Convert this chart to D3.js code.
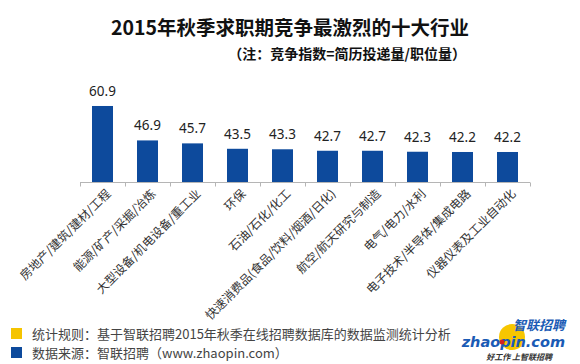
<!DOCTYPE html>
<html>
<head>
<meta charset="utf-8">
<script src="https://cdn.jsdelivr.net/npm/d3@7"></script>
<style>
    body { margin: 0; background: #fff; }
    svg { display: block; font-family: "Noto Sans CJK SC", "Noto Sans", sans-serif; }
</style>
</head>
<body>
<div class="chart"></div>
<script>
// Data
const industries = [
    '房地产/建筑/建材/工程',
    '能源/矿产/采掘/冶炼',
    '大型设备/机电设备/重工业',
    '环保',
    '石油/石化/化工',
    '快速消费品(食品/饮料/烟酒/日化)',
    '航空/航天研究与制造',
    '电气/电力/水利',
    '电子技术/半导体/集成电路',
    '仪器仪表及工业自动化'
];
const scores = [60.9, 46.9, 45.7, 43.5, 43.3, 42.7, 42.7, 42.3, 42.2, 42.2];
const legendItems = [
    { color: '#f5c400', text: '统计规则：基于智联招聘2015年秋季在线招聘数据库的数据监测统计分析' },
    { color: '#0d4a9c', text: '数据来源：智联招聘（www.zhaopin.com）' }
];

const svgWidth = 580;
const svgHeight = 364;
const barColor = '#0d4a9c';

const svg = d3.select('.chart')
    .append('svg')
    .attr('width', svgWidth)
    .attr('height', svgHeight);

// Titles
svg.append('text')
    .attr('x', 290)
    .attr('y', 35)
    .attr('text-anchor', 'middle')
    .style('font-size', '19.5px')
    .style('font-weight', 'bold')
    .style('fill', '#111')
    .text('2015年秋季求职期竞争最激烈的十大行业');

svg.append('text')
    .attr('x', 466)
    .attr('y', 59)
    .attr('text-anchor', 'end')
    .style('font-size', '14px')
    .style('font-weight', 'bold')
    .style('fill', '#111')
    .text('（注：竞争指数=简历投递量/职位量）');

// Scales
const xScale = d3.scaleBand()
    .domain(industries)
    .range([80, 530])
    .padding(0);

const yScale = d3.scaleLinear()
    .domain([30, 70])
    .range([182, 83.6]);

const barWidth = 21;

// Bars
svg.selectAll('.bar')
    .data(scores)
    .enter()
    .append('rect')
    .attr('class', 'bar')
    .attr('x', (d, i) => xScale(industries[i]) + (xScale.bandwidth() - barWidth) / 2)
    .attr('y', d => yScale(d))
    .attr('width', barWidth)
    .attr('height', d => yScale(30) - yScale(d))
    .style('fill', barColor);

// Value labels
svg.selectAll('.value')
    .data(scores)
    .enter()
    .append('text')
    .attr('class', 'value')
    .attr('x', (d, i) => xScale(industries[i]) + xScale.bandwidth() / 2)
    .attr('y', d => yScale(d) - 10)
    .attr('text-anchor', 'middle')
    .style('font-family', '"Noto Sans", sans-serif')
    .style('font-size', '13.5px')
    .style('fill', '#222')
    .text(d => d.toFixed(1));

// Axis line with ticks at band boundaries
const axisY = yScale(30) + 0.5;
svg.append('line')
    .attr('x1', xScale.range()[0])
    .attr('x2', xScale.range()[1])
    .attr('y1', axisY)
    .attr('y2', axisY)
    .style('stroke', '#b5b5b5');

const boundaries = industries.map(d => xScale(d)).concat([xScale.range()[1]]);
svg.selectAll('.tick')
    .data(boundaries)
    .enter()
    .append('line')
    .attr('class', 'tick')
    .attr('x1', d => Math.round(d) + 0.5)
    .attr('x2', d => Math.round(d) + 0.5)
    .attr('y1', axisY)
    .attr('y2', axisY + 4)
    .style('stroke', '#b5b5b5');

// Category labels, rotated
svg.selectAll('.cat')
    .data(industries)
    .enter()
    .append('text')
    .attr('class', 'cat')
    .attr('transform', d => 'translate(' + (xScale(d) + xScale.bandwidth() / 2 + 6) + ',' + (axisY + 9) + ') rotate(-45)')
    .attr('text-anchor', 'end')
    .attr('dy', '0.35em')
    .style('font-size', '12px')
    .style('fill', '#333')
    .text(d => d);

// Legend
const legend = svg.selectAll('.legend')
    .data(legendItems)
    .enter()
    .append('g')
    .attr('class', 'legend')
    .attr('transform', (d, i) => 'translate(11,' + (328 + i * 19) + ')');

legend.append('rect')
    .attr('width', 11)
    .attr('height', 11)
    .style('fill', d => d.color);

legend.append('text')
    .attr('x', 21)
    .attr('y', 6)
    .attr('dy', '0.35em')
    .style('font-size', '13px')
    .style('fill', '#444')
    .text(d => d.text);

// Logo
const logo = svg.append('g').attr('class', 'logo');
logo.append('circle')
    .attr('cx', 512)
    .attr('cy', 337)
    .attr('r', 13)
    .style('fill', '#f7c600');
logo.append('text')
    .attr('x', 565)
    .attr('y', 330)
    .attr('text-anchor', 'end')
    .style('font-size', '13px')
    .style('font-weight', 'bold')
    .style('font-style', 'italic')
    .style('fill', '#1a5bb5')
    .text('智联招聘');
logo.append('text')
    .attr('x', 565)
    .attr('y', 347)
    .attr('text-anchor', 'end')
    .style('font-family', '"DejaVu Sans", sans-serif')
    .style('font-size', '14.5px')
    .style('font-weight', 'bold')
    .style('font-style', 'italic')
    .style('fill', '#1a5bb5')
    .text('zhaopin.com');
logo.append('circle')
    .attr('cx', 502)
    .attr('cy', 342)
    .attr('r', 2.5)
    .style('fill', '#d42020');
logo.append('text')
    .attr('x', 552)
    .attr('y', 360)
    .attr('text-anchor', 'end')
    .style('font-size', '8px')
    .style('font-weight', 'bold')
    .style('font-style', 'italic')
    .style('fill', '#333')
    .text('好工作  上智联招聘');
</script>
</body>
</html>
